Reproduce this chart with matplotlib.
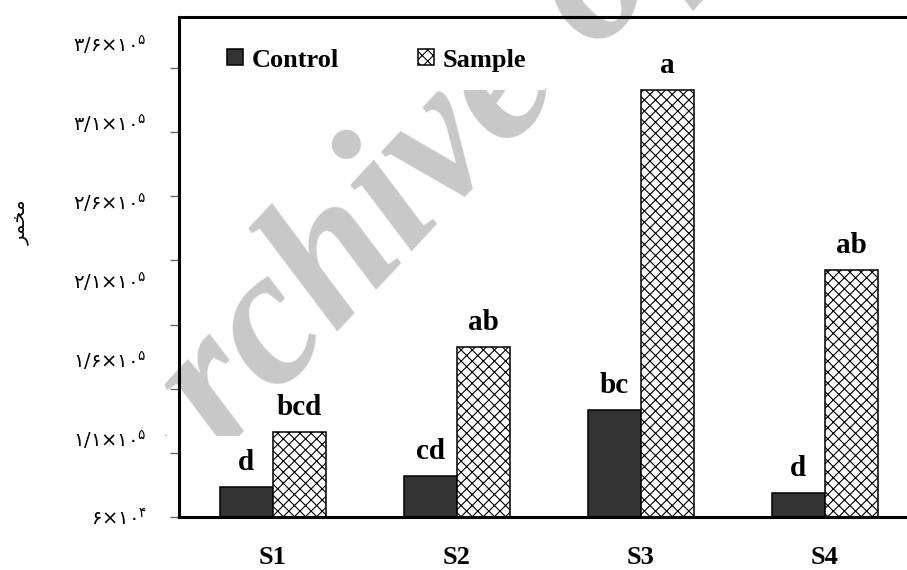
"""Yeast counts for control vs sample in four groups, Persian axis labels."""

import matplotlib
matplotlib.use("Agg")
import matplotlib.pyplot as plt
import numpy as np
from matplotlib.ticker import NullFormatter
from matplotlib.transforms import Bbox, TransformedBbox

groups = ["S1", "S2", "S3", "S4"]
control = [79000, 85900, 127700, 75200]
sample = [113800, 167600, 330300, 216300]
control_letters = ["d", "cd", "bc", "d"]
sample_letters = ["bcd", "ab", "a", "ab"]
series_names = ["Control", "Sample"]

ytick_values = [60000, 110000, 160000, 210000, 260000, 310000, 360000]
ytick_labels = [
    r"$\mathregular{۶×۱۰^{۴}}$",
    r"$\mathregular{۱/۱×۱۰^{۵}}$",
    r"$\mathregular{۱/۶×۱۰^{۵}}$",
    r"$\mathregular{۲/۱×۱۰^{۵}}$",
    r"$\mathregular{۲/۶×۱۰^{۵}}$",
    r"$\mathregular{۳/۱×۱۰^{۵}}$",
    r"$\mathregular{۳/۶×۱۰^{۵}}$",
]
y_title = "مخمر"
watermark = "Archive of SID"


def shape_fa(word):
    """matplotlib does no Arabic shaping or bidi: pick joined forms, reverse."""
    # isolated, final, initial, medial
    forms = {
        "م": "\ufee1\ufee2\ufee3\ufee4",
        "خ": "\ufea5\ufea6\ufea7\ufea8",
        "ر": "\ufead\ufeae\ufead\ufeae",
    }
    non_joining = set("اآدذرزژو")
    out = []
    for i, ch in enumerate(word):
        prev_j = i > 0 and word[i - 1] not in non_joining
        next_j = i < len(word) - 1 and ch not in non_joining
        out.append(forms[ch][int(prev_j) + 2 * int(next_j)])
    return "".join(reversed(out))


plt.rcParams["font.family"] = ["Liberation Serif", "DejaVu Sans"]
plt.rcParams["font.weight"] = "bold"
plt.rcParams["hatch.linewidth"] = 0.8
plt.rcParams["hatch.color"] = "#222222"

fig = plt.figure(figsize=(9.07, 5.70), dpi=100)
ax = fig.add_axes([0.1974, 0.093, 0.8026, 0.877])
ax.patch.set_alpha(0)

# site watermark, sits behind the chart and only shows inside this box
wm = fig.text(0.154, 0.028, watermark, rotation=47, rotation_mode="anchor",
              ha="left", va="baseline", fontsize=140, color="#c8c8c8",
              family="Liberation Serif", weight="bold", style="italic", zorder=-1)
wm.set_clip_box(TransformedBbox(Bbox([[165 / 907, 0.235], [1, 1]]), fig.transFigure))

x = np.arange(len(groups))
w = 0.29
b1 = ax.bar(x - w / 2, control, w, color="#333333", edgecolor="black",
            linewidth=1.1, label=series_names[0])
b2 = ax.bar(x + w / 2, sample, w, color="white", edgecolor="black",
            linewidth=1.1, hatch="xxx", label=series_names[1])

for bars, letters in ((b1, control_letters), (b2, sample_letters)):
    for rect, txt in zip(bars, letters):
        ax.annotate(txt, (rect.get_x() + rect.get_width() / 2, rect.get_height()),
                    xytext=(0, 12), textcoords="offset points",
                    ha="center", va="baseline", fontsize=21, weight="bold")

ax.set_xlim(-0.511, 3.446)
ax.set_ylim(60000, 376500)

ax.set_xticks(x, groups)
ax.tick_params(axis="x", length=0, pad=21, labelsize=19)

ax.set_yticks(np.arange(60000, 370000, 40600))
ax.yaxis.set_major_formatter(NullFormatter())
ax.tick_params(axis="y", which="major", length=6.5, width=1, color="#666666")
ax.yaxis.remove_overlapping_locs = False
ax.set_yticks(ytick_values, ytick_labels, minor=True)
ax.tick_params(axis="y", which="minor", length=0, pad=23, labelsize=14)
for lbl in ax.get_yticklabels(minor=True):
    lbl.set_family("DejaVu Sans")
    lbl.set_weight("normal")

for side in ("left", "top", "bottom"):
    ax.spines[side].set_linewidth(2.2)
ax.spines["right"].set_visible(False)

fig.text(0.022, 0.61, shape_fa(y_title), rotation=90, ha="center", va="center",
         fontsize=14, family="DejaVu Sans", weight="normal")

leg = ax.legend(loc="center left", bbox_to_anchor=(0.041, 0.914), ncol=2,
                frameon=True, fancybox=False, facecolor="white", edgecolor="none",
                framealpha=1, fontsize=19, handlelength=0.58, handleheight=0.58,
                handletextpad=0.35, columnspacing=3.0, borderpad=0.7,
                borderaxespad=0)

fig.savefig("out.png", dpi=100)
